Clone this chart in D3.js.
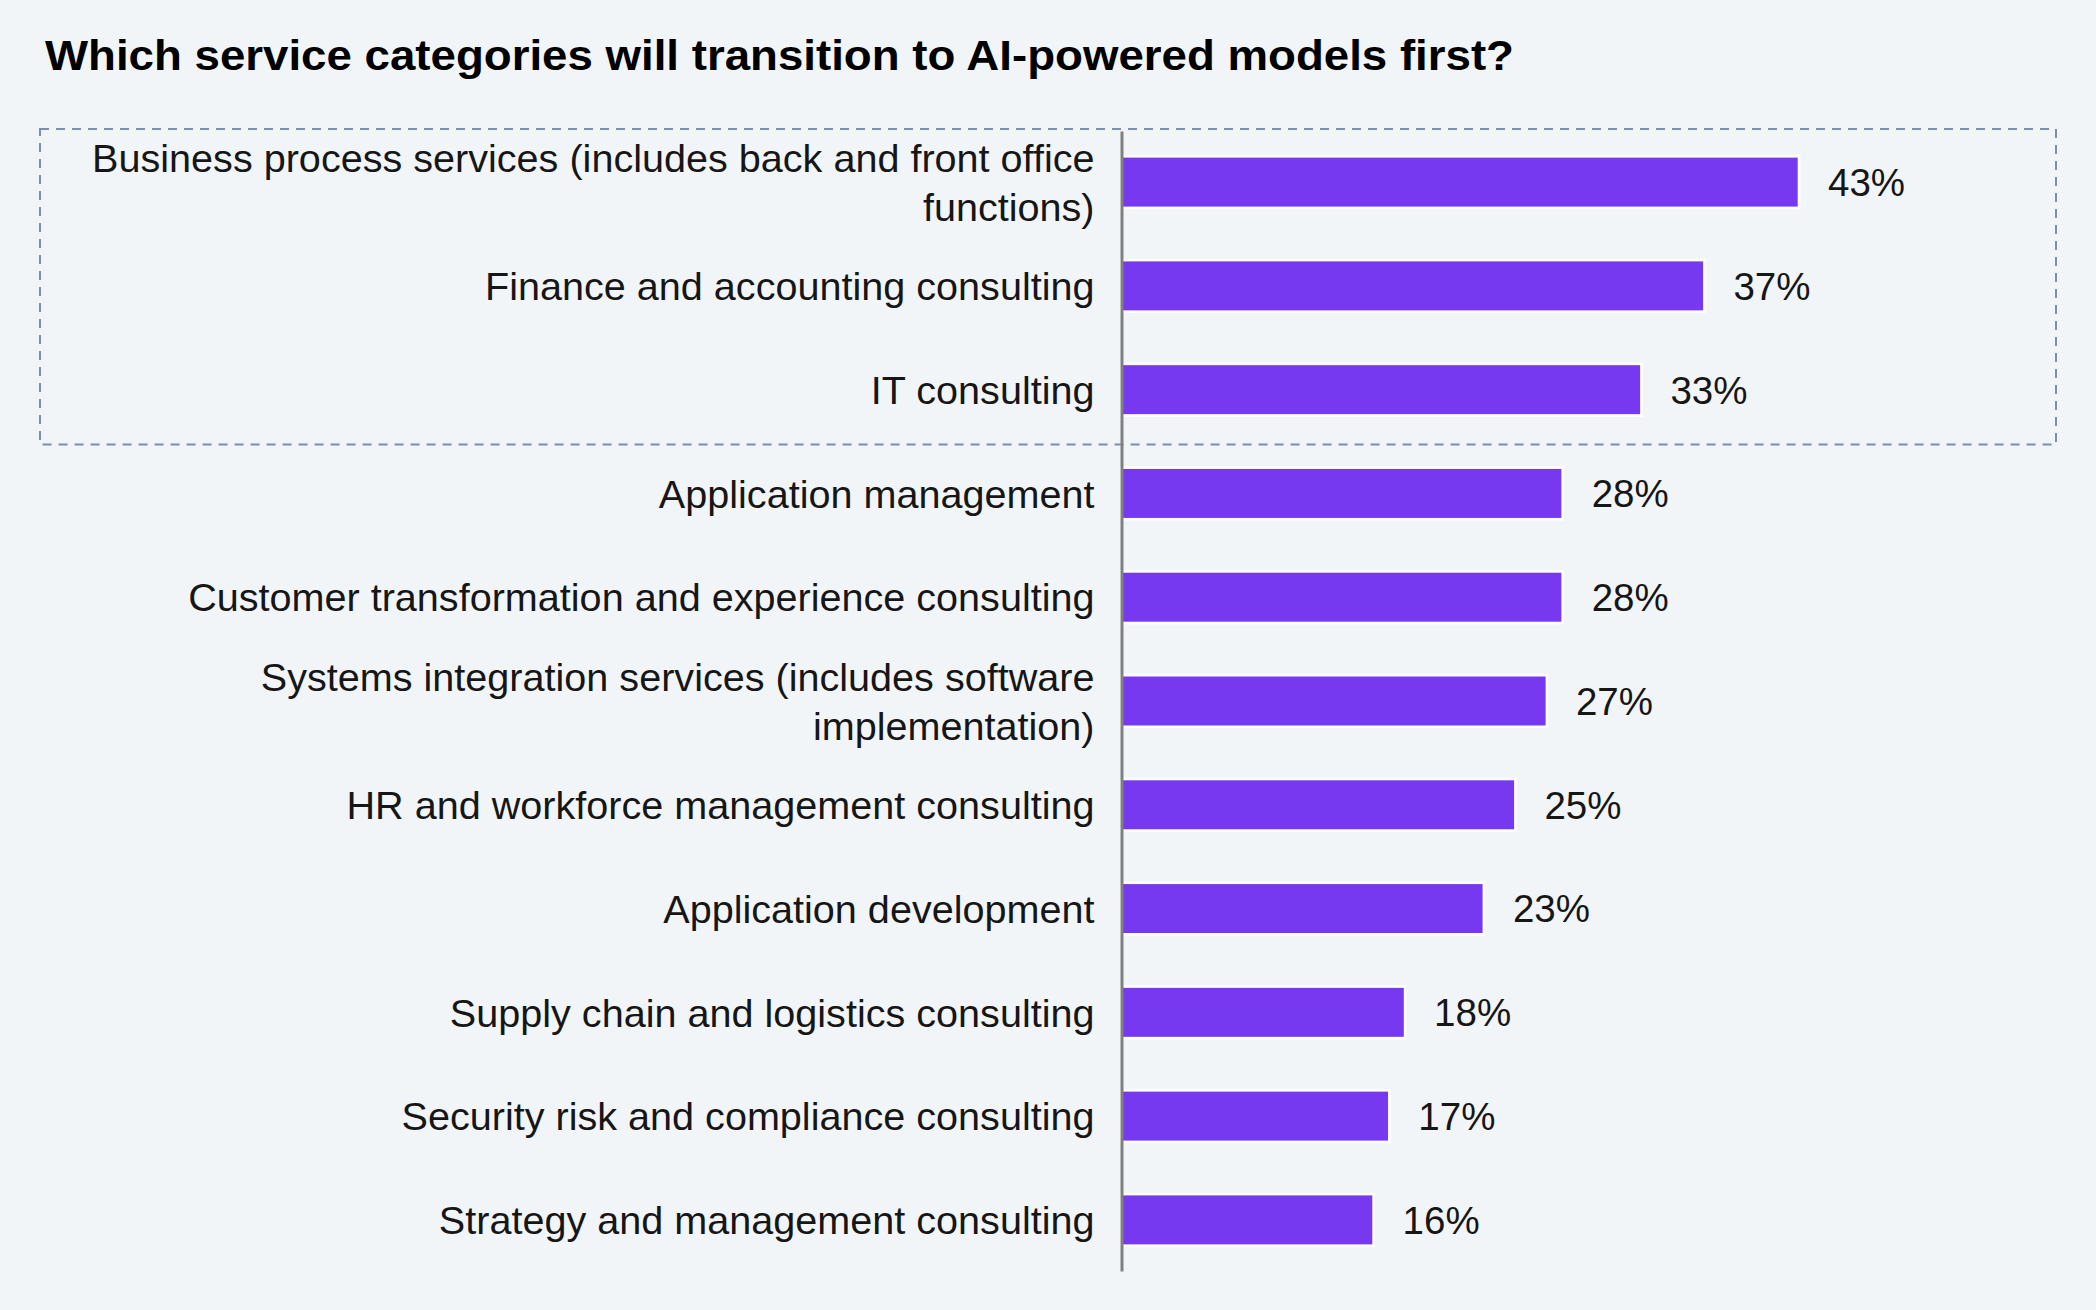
<!DOCTYPE html>
<html>
<head>
<meta charset="utf-8">
<script src="https://cdn.jsdelivr.net/npm/d3@7"></script>
<style>
  html, body { margin: 0; padding: 0; background: #f2f5f8; }
  svg { display: block; }
  text { font-family: "Liberation Sans", Arial, Helvetica, sans-serif; }
</style>
</head>
<body>
<svg id="chart" width="2096" height="1310"></svg>
<script>
const title = "Which service categories will transition to AI-powered models first?";
const categories = [
  "Business process services (includes back and front office functions)",
  "Finance and accounting consulting",
  "IT consulting",
  "Application management",
  "Customer transformation and experience consulting",
  "Systems integration services (includes software implementation)",
  "HR and workforce management consulting",
  "Application development",
  "Supply chain and logistics consulting",
  "Security risk and compliance consulting",
  "Strategy and management consulting"
];
const values = [43, 37, 33, 28, 28, 27, 25, 23, 18, 17, 16];
const highlighted = categories.slice(0, 3);

const svg = d3.select("#chart");
const W = 2096, H = 1310;
svg.append("rect").attr("width", W).attr("height", H).attr("fill", "#f2f5f8");

const axisX = 1121.5;
const x = d3.scaleLinear().domain([0, 43]).range([axisX, 1799]);
const y = d3.scaleBand().domain(categories).range([131, 1271])
  .paddingInner(0.503).paddingOuter(0.244);

// Title
svg.append("text")
  .attr("x", 45).attr("y", 69.5)
  .attr("font-size", 43).attr("font-weight", "bold").attr("fill", "#000")
  .attr("textLength", 1469).attr("lengthAdjust", "spacingAndGlyphs")
  .text(title);

// Highlight dashed box around first three categories
const boxTop = 129, boxBottom = y(highlighted[2]) + y.bandwidth() + (y.step() - y.bandwidth()) / 2 + 3;
svg.append("rect")
  .attr("x", 40).attr("y", boxTop)
  .attr("width", 2016).attr("height", boxBottom - boxTop)
  .attr("fill", "none").attr("stroke", "#7b8db0").attr("stroke-width", 2)
  .attr("stroke-dasharray", "9 7");

// Bars
const data = categories.map((c, i) => ({ c, v: values[i] }));
svg.append("g").selectAll("rect").data(data).join("rect")
  .attr("x", x(0))
  .attr("y", d => y(d.c))
  .attr("width", d => x(d.v) - x(0))
  .attr("height", y.bandwidth())
  .attr("fill", "#7639f0")
  .attr("stroke", "#ffffff").attr("stroke-width", 2.6);

// Value labels
svg.append("g").selectAll("text").data(data).join("text")
  .attr("x", d => x(d.v) + 29)
  .attr("y", d => y(d.c) + y.bandwidth() / 2)
  .attr("dy", "0.36em")
  .attr("font-size", 38.5).attr("fill", "#161616")
  .text(d => d.v + "%");

// Axis with category labels
const axis = d3.axisLeft(y).tickSize(0).tickSizeOuter(0).tickPadding(27);
const gAxis = svg.append("g").attr("transform", `translate(${axisX},0)`).call(axis);
gAxis.select(".domain").attr("stroke", "#808080").attr("stroke-width", 3);
gAxis.selectAll(".tick text")
  .attr("font-size", 39.6).attr("fill", "#161616")
  .attr("font-family", "'Liberation Sans', Arial, Helvetica, sans-serif");

// wrap long labels
const maxW = 1050, lineH = 49.5;
gAxis.selectAll(".tick text").each(function (d) {
  const t = d3.select(this);
  const words = d.split(" ");
  const lines = [];
  let cur = [];
  t.text(null);
  const probe = t.append("tspan");
  words.forEach(w => {
    const test = cur.concat(w).join(" ");
    probe.text(test);
    if (probe.node().getComputedTextLength() > maxW && cur.length) {
      lines.push(cur.join(" "));
      cur = [w];
    } else cur.push(w);
  });
  lines.push(cur.join(" "));
  probe.remove();
  t.attr("dy", null);
  const xAttr = t.attr("x");
  lines.forEach((ln, i) => {
    t.append("tspan")
      .attr("x", xAttr)
      .attr("y", (i - (lines.length - 1) / 2) * lineH)
      .attr("dy", "0.36em")
      .text(ln);
  });
});
gAxis.raise();
</script>
</body>
</html>
